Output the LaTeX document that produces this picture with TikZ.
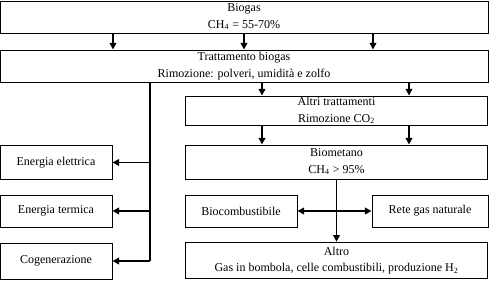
\documentclass[tikz,border=0pt]{standalone}
\usepackage{fontspec}
\setmainfont{Liberation Serif}
\usepackage{tikz}
\usetikzlibrary{arrows.meta,positioning,calc}
\tikzset{
  box/.style={draw, rectangle, line width=0.7pt, align=center, font=\fontsize{9}{12.5}\selectfont, inner sep=1pt},
  wide/.style={box, minimum width=366pt, minimum height=24pt},
  half/.style={box, minimum width=227pt},
  side/.style={box, minimum width=84pt, minimum height=24pt},
  arr/.style={-{Triangle[length=5pt, width=5pt]}, line width=1.2pt},
  trunk/.style={line width=1.2pt}
}

\begin{document}
\begin{tikzpicture}[x=0.75pt, y=-0.75pt]
\useasboundingbox (0,0) rectangle (490,281);
\node[wide] (bg) at (244,17) {Biogas\\CH\textsubscript{4} = 55-70\%};
\node[wide] (tb) at (244,66) {Trattamento biogas\\Rimozione: polveri, umidità e zolfo};
\node[half, minimum height=20pt] (at) at (336.5,110.5) {Altri trattamenti\\Rimozione CO\textsubscript{2}};
\node[half, minimum height=25.5pt] (bm) at (336.5,162) {Biometano\\CH\textsubscript{4} > 95\%};
\node[side, minimum height=25pt] (ee) at (56,162.5) {Energia elettrica};
\node[side] (et) at (56,211) {Energia termica};
\node[side, minimum height=27pt] (cg) at (56,261) {Cogenerazione};
\node[side] (bc) at (241,211) {Biocombustibile};
\node[side, minimum width=87pt] (rg) at (430,211) {Rete gas naturale};
\node[half, minimum height=27.5pt] (al) at (336.5,260.5) {Altro\\Gas in bombola, celle combustibili, produzione H\textsubscript{2}};

% biogas -> trattamento
\coordinate (b1) at (113,0);
\coordinate (b2) at (373,0);
\draw[arr] (b1 |- bg.south) -- (b1 |- tb.north);
\draw[arr] (bg.south) -- (tb.north);
\draw[arr] (b2 |- bg.south) -- (b2 |- tb.north);

% utilizzo diretto
\coordinate (tr) at (150,0);
\draw[trunk] (tr |- tb.south) -- (tr |- cg.east);
\draw[arr] (tr |- ee.east) -- (ee.east);
\draw[arr] (tr |- et.east) -- (et.east);
\draw[arr] (tr |- cg.east) -- (cg.east);

% upgrading
\coordinate (u1) at (262,0);
\coordinate (u2) at (409,0);
\draw[arr] (u1 |- tb.south) -- (u1 |- at.north);
\draw[arr] (u2 |- tb.south) -- (u2 |- at.north);
\draw[arr] (u1 |- at.south) -- (u1 |- bm.north);
\draw[arr] (u2 |- at.south) -- (u2 |- bm.north);

% biometano
\draw[arr] (bm.south) -- (al.north);
\draw[arr] (bm.south |- bc.east) -- (bc.east);
\draw[arr] (bm.south |- rg.west) -- (rg.west);
\end{tikzpicture}
\end{document}
